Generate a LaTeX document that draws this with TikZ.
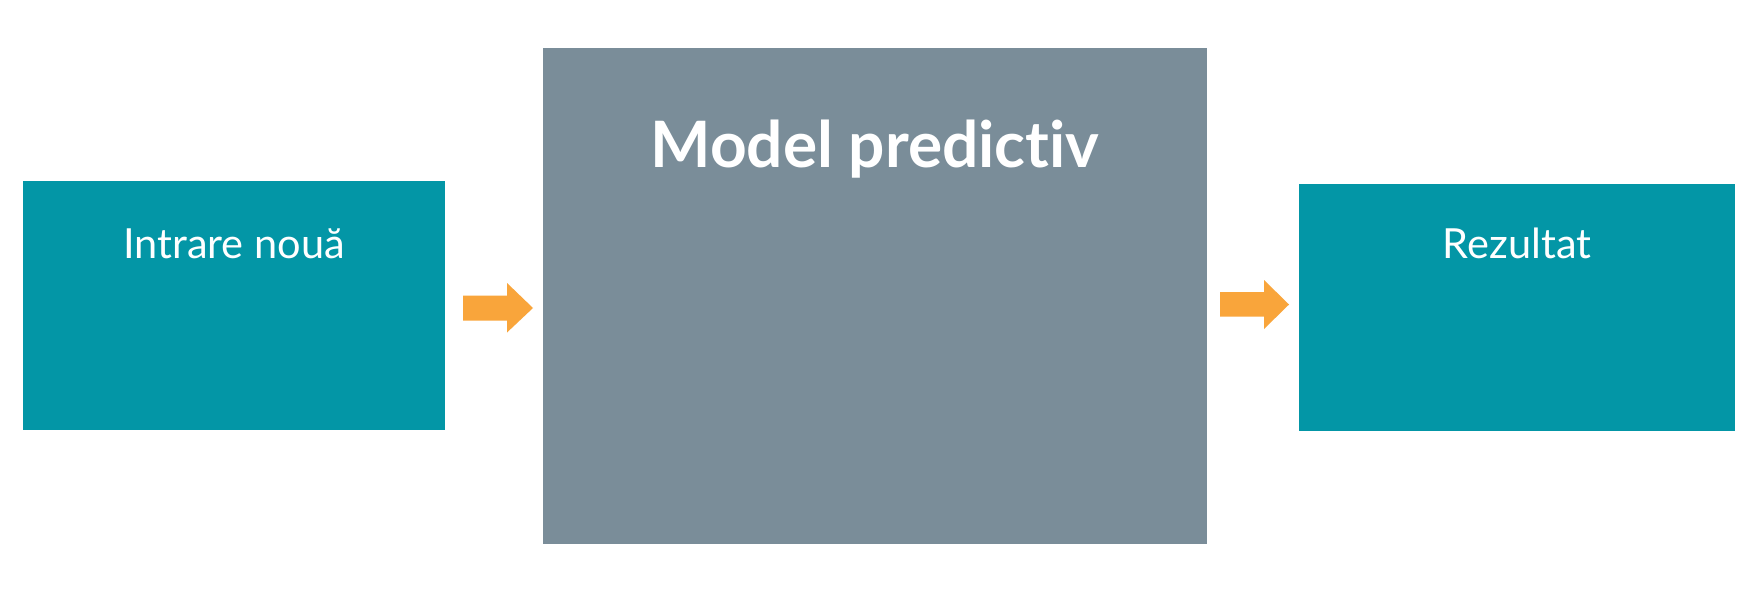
\documentclass[tikz,border=0pt]{standalone}
\usepackage{fontspec}
\setmainfont{Lato}[Ligatures=NoCommon]
\usetikzlibrary{calc}
\definecolor{tealbox}{HTML}{0396A6}
\definecolor{graybox}{HTML}{7A8D99}
\definecolor{arroworange}{HTML}{F9A53B}
\tikzset{
  box/.style={draw=none, inner sep=0pt, outer sep=0pt},
  tealstyle/.style={box, fill=tealbox},
  graystyle/.style={box, fill=graybox},
  smalltext/.style={text=white, anchor=base, font=\fontsize{41.5}{48}\selectfont},
  bigtext/.style={text=white, anchor=base, font=\fontsize{64}{74}\selectfont\bfseries},
  blockarrow/.style={fill=arroworange, draw=none}
}
\begin{document}
\begin{tikzpicture}[x=1pt,y=-1pt]
\useasboundingbox[fill=white] (0,0) rectangle (1756,592);
% boxes
\node[tealstyle, minimum width=422, minimum height=249] (in) at (234,305) {};
\node[graystyle, minimum width=664, minimum height=496] (model) at (875,296) {};
\node[tealstyle, minimum width=436, minimum height=247] (out) at (1517,307.5) {};
% texts
\node[smalltext] (intxt) at (234,258) {Intrare nouă};
\node[bigtext] (modeltxt) at (875,167) {Model predictiv};
\node[smalltext] (outtxt) at (1517,258) {Rezultat};
% arrows
\coordinate (a1) at (463,308);
\coordinate (a2) at (1220,304.5);
\fill[blockarrow] (a1) ++(0,-12.5) -- ++(44,0) -- ++(0,-12.5) -- ++(26,25) -- ++(-26,24.5) -- ++(0,-12) -- ++(-44,0) -- cycle;
\fill[blockarrow] (a2) ++(0,-12.5) -- ++(44,0) -- ++(0,-12) -- ++(25,24.5) -- ++(-25,24.5) -- ++(0,-12.5) -- ++(-44,0) -- cycle;
\end{tikzpicture}
\end{document}
